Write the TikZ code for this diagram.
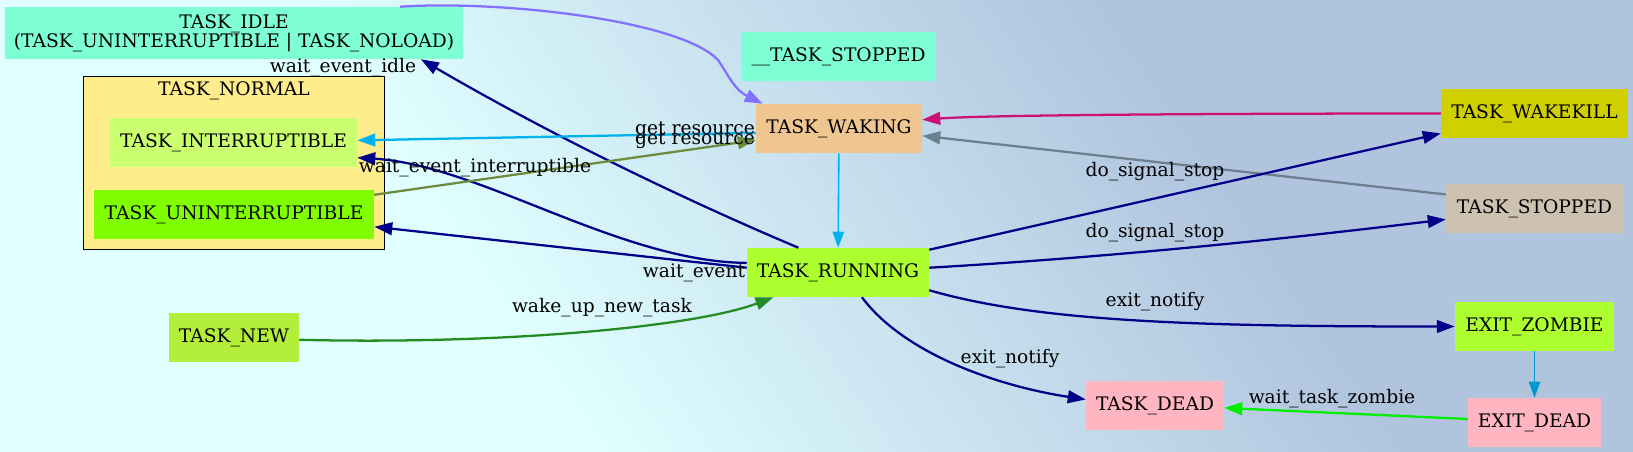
\documentclass[tikz,border=0pt]{standalone}
\usepackage{fontspec}
\setmainfont{DejaVu Serif}
\usetikzlibrary{arrows.meta}

\definecolor{bgleft}{HTML}{E0FFFF}
\definecolor{bgright}{HTML}{B0C4DE}
\definecolor{aquamarine}{HTML}{7FFFD4}
\definecolor{goldenrod}{HTML}{FFEC8B}
\definecolor{olivegreenA}{HTML}{CAFF70}
\definecolor{chartreuse}{HTML}{7FFF00}
\definecolor{burlywood}{HTML}{EFC590}
\definecolor{greenyellow}{HTML}{ADFF2F}
\definecolor{olivedrab}{HTML}{B3EE3A}
\definecolor{yellowthree}{HTML}{D0CF00}
\definecolor{antiquewhite}{HTML}{CDC1B0}
\definecolor{lightpink}{HTML}{FFB6C1}
\definecolor{navyblue}{HTML}{000088}
\definecolor{skyblue}{HTML}{00B2EE}
\definecolor{skybluethree}{HTML}{009ACD}
\definecolor{olivefour}{HTML}{6E8B3D}
\definecolor{pinkthree}{HTML}{CD1076}
\definecolor{slate}{HTML}{6C7F8E}
\definecolor{forest}{HTML}{228B22}
\definecolor{greentwo}{HTML}{00EE00}
\definecolor{slateblue}{HTML}{8470FF}

\pgfdeclarehorizontalshading{bgshade}{100bp}{color(0bp)=(bgleft); color(41.7bp)=(bgleft); color(58.3bp)=(bgright); color(100bp)=(bgright)}

\tikzset{
  state/.style={rectangle, inner sep=0pt, minimum height=36.75pt,
    font=\fontsize{14}{14.5}\selectfont},
  lbl/.style={inner sep=0pt, font=\fontsize{14}{14.5}\selectfont},
  trans/.style={line width=1.7pt, -{Triangle[length=13.5pt,width=9.5pt]}},
  thintrans/.style={line width=1.2pt, -{Triangle[length=12pt,width=8.5pt]}}
}

\begin{document}
\begin{tikzpicture}[x=0.75pt, y=-0.75pt]
  \useasboundingbox (0,0) rectangle (1633,452);

  % background gradient
  \begin{scope}
    \clip (0,0) rectangle (1633,452);
    \begin{scope}[transform canvas={shift={(850,226)}, rotate=34}]
      \shade[shading=bgshade] (-1000,-1200) rectangle (1000,1200);
    \end{scope}
  \end{scope}

  % The TASK_NORMAL cluster.
  \node[draw=black, line width=0.75pt, fill=goldenrod, inner sep=0pt,
    minimum width=225.75pt, minimum height=129pt] (normal) at (233.5,163) {};
  \node[lbl] (lnormal) at (234,91) {TASK\_NORMAL};

  % states
  \node[state, fill=aquamarine, minimum width=343.5pt, minimum height=39pt,
    align=center] (idle) at (234,33)
    {TASK\_IDLE\\(TASK\_UNINTERRUPTIBLE | TASK\_NOLOAD)};
  \node[state, fill=aquamarine, minimum width=146.25pt] (stopped0) at (838.5,56.5) {\_\_TASK\_STOPPED};
  \node[state, fill=olivegreenA, minimum width=185.25pt] (interruptible) at (233.5,142.5) {TASK\_INTERRUPTIBLE};
  \node[state, fill=chartreuse, minimum width=210pt] (uninterruptible) at (234,214.5) {TASK\_UNINTERRUPTIBLE};
  \node[state, fill=burlywood, minimum width=124.5pt] (waking) at (839,128.5) {TASK\_WAKING};
  \node[state, fill=yellowthree, minimum width=140.25pt] (wakekill) at (1534.5,113.5) {TASK\_WAKEKILL};
  \node[state, fill=antiquewhite, minimum width=132.75pt] (stopped) at (1534.5,208.5) {TASK\_STOPPED};
  \node[state, fill=greenyellow, minimum width=136.5pt] (running) at (838,272.5) {TASK\_RUNNING};
  \node[state, fill=olivedrab, minimum width=97.5pt] (new) at (234,337.5) {TASK\_NEW};
  \node[state, fill=greenyellow, minimum width=119.25pt] (zombie) at (1534.5,326.5) {EXIT\_ZOMBIE};
  \node[state, fill=lightpink, minimum width=103.5pt] (dead) at (1155,405.5) {TASK\_DEAD};
  \node[state, fill=lightpink, minimum width=99.75pt] (exitdead) at (1534.5,422.5) {EXIT\_DEAD};

  % going to sleep
  \draw[trans, navyblue] (running.148) .. controls +(-130,-55) and +(122,71) .. (idle.-8);
  \draw[trans, navyblue] (running.174) .. controls (620,262) and (480,165) .. (interruptible.-7);
  \draw[trans, navyblue] (running.177) -- (uninterruptible.-5.5);

  % waking up
  \draw[trans, skyblue] (waking.183) -- (interruptible.1);
  \draw[trans, olivefour] (uninterruptible.8.3) -- (waking.188);
  \draw[thintrans, skyblue] (waking) -- (running);
  \coordinate (idlebend) at (718,60);
  \draw[trans, slateblue] (idle.9) .. controls (500,0) and (680,20) .. (idlebend)
    .. controls (730,78) and (735,90) .. (waking.162);
  \draw[trans, pinkthree] (wakekill.west) .. controls +(-200,0) and +(68,-5) .. (waking.6.5);
  \draw[trans, slate] (stopped.171) -- (waking.-5);

  % stopping
  \draw[trans, navyblue] (running.14) -- (wakekill.-168);
  \draw[trans, navyblue] (running.3.5) .. controls +(173,-10) and +(-173,21) .. (stopped.187.6);

  % exiting
  \draw[trans, navyblue] (running.-11) .. controls +(110,32) and +(-255,0) .. (zombie.west);
  \draw[trans, navyblue] (running.-46) .. controls +(45,60) and +(-80,-12) .. (dead.175);
  \draw[thintrans, skybluethree] (zombie) -- (exitdead);
  \draw[trans, greentwo] (exitdead.177) -- (dead.-2);

  % a new task
  \draw[trans, forest] (new.-2) .. controls +(200,5) and +(-80,30) .. (running.-159);

  % edge labels
  \node[lbl] (lidle) at (343,68) {wait\_event\_idle};
  \node[lbl] (lres1) at (695,130) {get resource};
  \node[lbl] (lres2) at (695,140) {get resource};
  \node[lbl] (linter) at (475,168) {wait\_event\_interruptible};
  \node[lbl] (levent) at (694,273) {wait\_event};
  \node[lbl] (lstop1) at (1155,172) {do\_signal\_stop};
  \node[lbl] (lstop2) at (1155,233) {do\_signal\_stop};
  \node[lbl] (lnew) at (602,308) {wake\_up\_new\_task};
  \node[lbl] (lexit1) at (1155,302) {exit\_notify};
  \node[lbl] (lexit2) at (1010,359) {exit\_notify};
  \node[lbl] (lzombie) at (1332,399) {wait\_task\_zombie};
\end{tikzpicture}
\end{document}
